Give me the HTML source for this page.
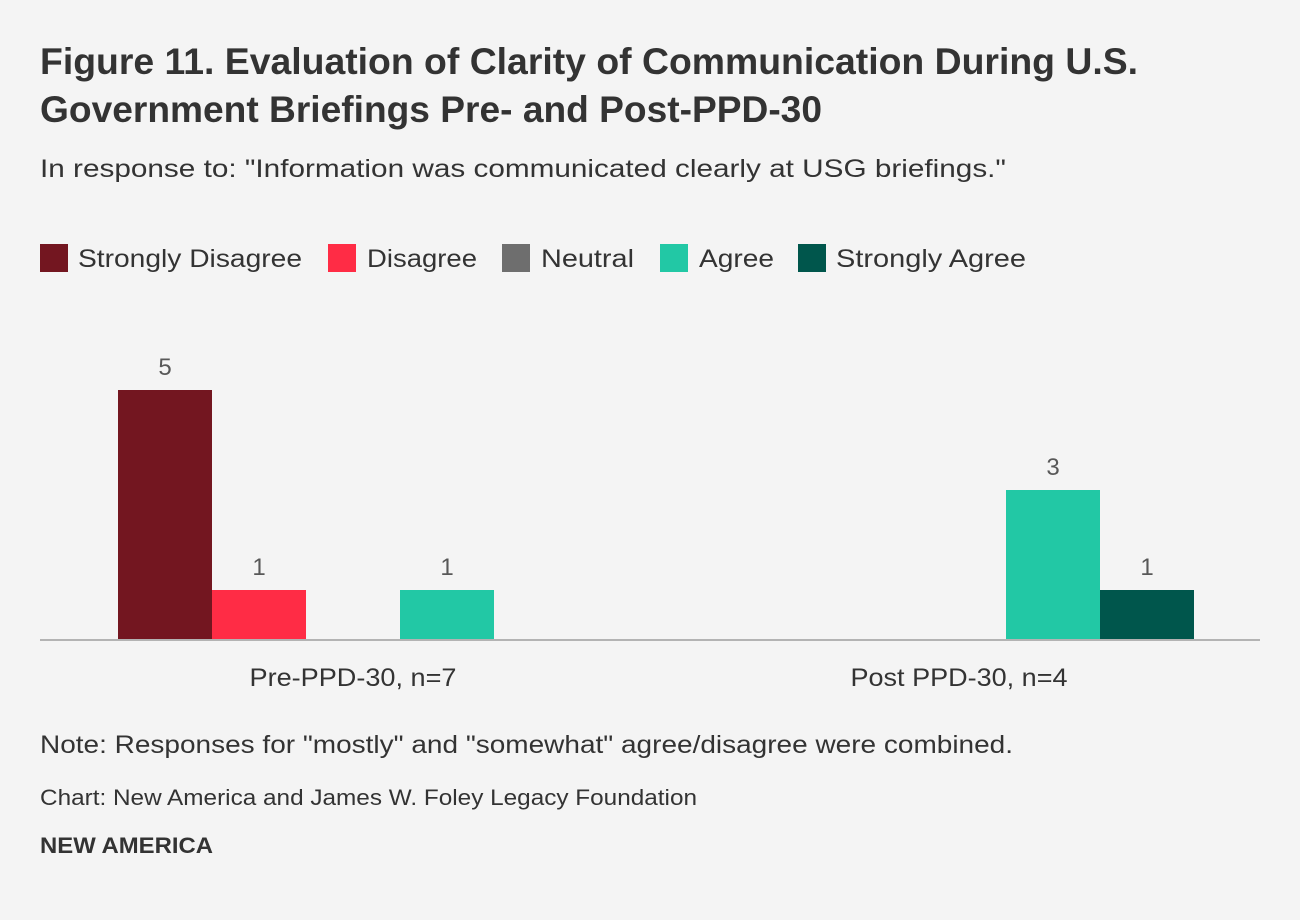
<!DOCTYPE html>
<html>
<head>
<meta charset="utf-8">
<style>
  html, body { margin: 0; padding: 0; background: #f4f4f4; }
  svg { display: block; }
  text { font-family: "Liberation Sans", "DejaVu Sans", sans-serif; fill: #333333; }
</style>
</head>
<body>
<svg width="1300" height="920" viewBox="0 0 1300 920" xmlns="http://www.w3.org/2000/svg">
  <rect x="0" y="0" width="1300" height="920" fill="#f4f4f4"/>

  <!-- Title -->
  <text x="40" y="74" font-size="37" font-weight="bold" textLength="1098" lengthAdjust="spacingAndGlyphs">Figure 11. Evaluation of Clarity of Communication During U.S.</text>
  <text x="40" y="122" font-size="37" font-weight="bold" textLength="782" lengthAdjust="spacingAndGlyphs">Government Briefings Pre- and Post-PPD-30</text>

  <!-- Subtitle -->
  <text x="40" y="177" font-size="25" textLength="966" lengthAdjust="spacingAndGlyphs">In response to: "Information was communicated clearly at USG briefings."</text>

  <!-- Legend -->
  <rect x="40" y="244" width="28" height="28" fill="#731620"/>
  <text x="78" y="267" font-size="25" textLength="224" lengthAdjust="spacingAndGlyphs">Strongly Disagree</text>
  <rect x="328" y="244" width="28" height="28" fill="#ff2c45"/>
  <text x="367" y="267" font-size="25" textLength="110" lengthAdjust="spacingAndGlyphs">Disagree</text>
  <rect x="502" y="244" width="28" height="28" fill="#6e6e6e"/>
  <text x="541" y="267" font-size="25" textLength="93" lengthAdjust="spacingAndGlyphs">Neutral</text>
  <rect x="660" y="244" width="28" height="28" fill="#22c8a5"/>
  <text x="699" y="267" font-size="25" textLength="75" lengthAdjust="spacingAndGlyphs">Agree</text>
  <rect x="798" y="244" width="28" height="28" fill="#00564c"/>
  <text x="836" y="267" font-size="25" textLength="190" lengthAdjust="spacingAndGlyphs">Strongly Agree</text>

  <!-- Bars: Pre-PPD-30 -->
  <rect x="118" y="390" width="94" height="249" fill="#731620"/>
  <rect x="212" y="590" width="94" height="49" fill="#ff2c45"/>
  <rect x="400" y="590" width="94" height="49" fill="#22c8a5"/>

  <!-- Bars: Post PPD-30 -->
  <rect x="1006" y="490" width="94" height="149" fill="#22c8a5"/>
  <rect x="1100" y="590" width="94" height="49" fill="#00564c"/>

  <!-- Value labels -->
  <g font-size="24" text-anchor="middle">
    <text x="165" y="375" style="fill:#585858">5</text>
    <text x="259" y="575" style="fill:#585858">1</text>
    <text x="447" y="575" style="fill:#585858">1</text>
    <text x="1053" y="475" style="fill:#585858">3</text>
    <text x="1147" y="575" style="fill:#585858">1</text>
  </g>

  <!-- Axis -->
  <rect x="40" y="639" width="1220" height="2" fill="#b3b3b3"/>

  <!-- Category labels -->
  <text x="353" y="686" font-size="25" text-anchor="middle" textLength="207" lengthAdjust="spacingAndGlyphs">Pre-PPD-30, n=7</text>
  <text x="959" y="686" font-size="25" text-anchor="middle" textLength="217" lengthAdjust="spacingAndGlyphs">Post PPD-30, n=4</text>

  <!-- Notes -->
  <text x="40" y="753" font-size="25" textLength="973" lengthAdjust="spacingAndGlyphs">Note: Responses for "mostly" and "somewhat" agree/disagree were combined.</text>
  <text x="40" y="805" font-size="22" textLength="657" lengthAdjust="spacingAndGlyphs">Chart: New America and James W. Foley Legacy Foundation</text>
  <text x="40" y="853" font-size="22" font-weight="bold" textLength="173" lengthAdjust="spacingAndGlyphs">NEW AMERICA</text>
</svg>
</body>
</html>
